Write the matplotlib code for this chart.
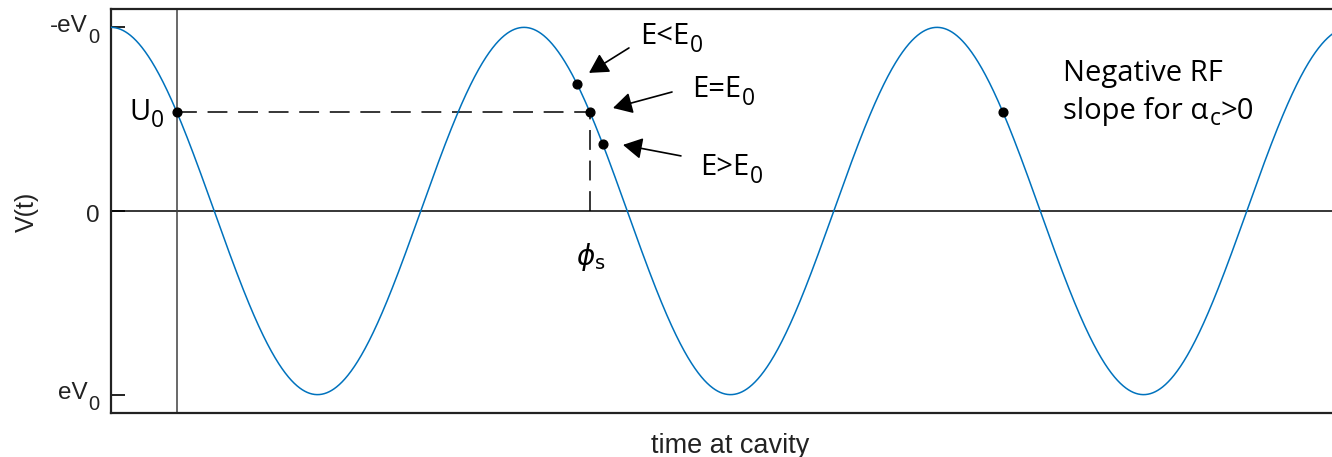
import matplotlib.pyplot as plt
import numpy as np

# RF wave: V(t) = cos(phase), one period = 2*pi, top of axis is -eV0
t_end = 18.575
phi_s = 1.0                                  # synchronous phase
rf_period = 2 * np.pi

# particles around the synchronous one (second period)
bunch_phases = [0.806, 1.0, 1.2]
bunch_labels = [('E<E', '0'), ('E=E', '0'), ('E>E', '0')]
# label baseline start and arrow tail/head, in axis data units
label_xy = [(8.05, 0.910), (8.84, 0.621), (8.96, 0.196)]
arrow_tail = [(7.88, 0.888), (8.535, 0.648), (8.671, 0.30)]
arrow_head = [(7.272, 0.752), (7.637, 0.561), (7.789, 0.36)]

ytick_vals = [1, 0, -1]
ytick_labels = [('-eV', '0'), ('0', ''), ('eV', '0')]

BLUE = '#0072BD'
INK = '#222222'
SANS = ['Liberation Sans', 'DejaVu Sans']
NOTE = ['Open Sans', 'DejaVu Sans']

fig = plt.figure(figsize=(13.32, 4.57), dpi=100)
ax = fig.add_axes([0.0833, 0.0963, 0.9167, 0.8840])


def rich(x, y, parts, family, color='black'):
    """Chain text pieces left to right; parts = (text, size, dy from baseline in points)."""
    prev = None
    for txt, size, dy in parts:
        if prev is None:
            prev = ax.annotate(txt, xy=(x, y), xycoords='data', xytext=(0, dy),
                               textcoords='offset points', fontsize=size,
                               family=family, color=color, ha='left', va='baseline')
        else:
            prev = ax.annotate(txt, xy=(1, y), xycoords=(prev, 'data'), xytext=(0.5, dy),
                               textcoords='offset points', fontsize=size,
                               family=family, color=color, ha='left', va='baseline')
    return prev


def tick_label(y, main, sub, size=17.5, sub_size=14.5):
    # right aligned label just left of the y axis, subscript dropped below
    trans = ax.get_yaxis_transform()
    if not sub:
        ax.annotate(main, xy=(0, y), xycoords=trans, xytext=(-8.5, -8),
                    textcoords='offset points', fontsize=size, family=SANS,
                    color=INK, ha='right', va='baseline')
        return
    s = ax.annotate(sub, xy=(0, y), xycoords=trans, xytext=(-8.3, -11),
                    textcoords='offset points', fontsize=sub_size, family=SANS,
                    color=INK, ha='right', va='baseline')
    ax.annotate(main, xy=(0, y), xycoords=(s, 'data'), xytext=(-0.5, -3),
                textcoords='offset points', fontsize=size, family=SANS,
                color=INK, ha='right', va='baseline')


t = np.linspace(0, t_end, 3000)
ax.plot(t, np.cos(t), color=BLUE, lw=1.1, zorder=3)

u0 = np.cos(phi_s)
phi_2 = phi_s + rf_period

# reference lines
ax.axhline(0, color='black', lw=1.1, zorder=2)
ax.axvline(phi_s, color='#404040', lw=1.1, zorder=2)
ax.plot([phi_s, phi_2], [u0, u0], color='black', lw=1.1,
        dashes=(13, 7), zorder=2)
ax.plot([phi_2, phi_2], [0, u0], color='black', lw=1.1,
        dashes=(13, 7), zorder=2)

# dots
dot_x = [phi_s] + [p + rf_period for p in bunch_phases] + [phi_s + 2 * rf_period]
ax.plot(dot_x, np.cos(dot_x), 'o', color='black', ms=6.3, zorder=4)

for (main, sub), xy, tail, head in zip(bunch_labels, label_xy, arrow_tail, arrow_head):
    rich(xy[0], xy[1], [(main, 21, 0), (sub, 16.5, -6)], NOTE)
    ax.annotate('', xy=head, xytext=tail,
                arrowprops=dict(arrowstyle='-|>,head_length=0.45,head_width=0.25',
                                color='black', lw=1.2, mutation_scale=26,
                                shrinkA=0, shrinkB=0))

rich(0.274, 0.496, [('U', 21, 0), ('0', 16.5, -5)], NOTE)
ax.text(phi_2 + 0.02, -0.25, r'$\phi_\mathregular{s}$', fontsize=20,
        ha='center', va='center')
rich(14.49, 0.708, [('Negative RF', 21, 0)], NOTE)
rich(14.49, 0.501, [('slope for α', 21, 0), ('c', 16.5, -4.5), ('>0', 21, 0)], NOTE)

ax.set_xlim(0, t_end)
ax.set_ylim(-1.1, 1.1)
ax.set_xticks([])
ax.set_yticks(ytick_vals)
ax.set_yticklabels([])
ax.tick_params(axis='y', direction='in', length=10, width=1.4, color=INK)
for v, (main, sub) in zip(ytick_vals, ytick_labels):
    tick_label(v, main, sub)

fig.text(730 / 1332, 1 - 453 / 457, 'time at cavity', fontsize=19.5, family=SANS,
         color=INK, ha='center', va='baseline')
fig.text(27 / 1332, 1 - 212 / 457, 'V(t)', fontsize=18, family=SANS, color=INK,
         rotation=90, ha='center', va='center')

ax.spines['right'].set_visible(False)
for s in ['left', 'top', 'bottom']:
    ax.spines[s].set_linewidth(1.6)
    ax.spines[s].set_color(INK)

fig.savefig('out.png', dpi=100)
